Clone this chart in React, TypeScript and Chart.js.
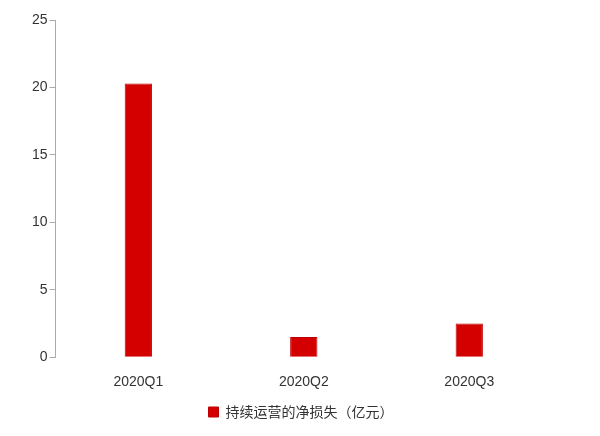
import React, { useEffect, useRef } from "react";
import { Chart, registerables } from "chart.js";

Chart.register(...registerables);

const categories = ["2020Q1", "2020Q2", "2020Q3"];
const netLoss = [20.3, 1.5, 2.5];
const seriesLabel = "持续运营的净损失（亿元）";
const yTicks = [0, 5, 10, 15, 20, 25];

const shiftLegend = {
  id: "shiftLegend",
  afterLayout(chart: any) {
    const lg = chart.legend;
    if (lg) {
      lg.left += 10;
      lg.right += 10;
    }
  },
};

export default function App() {
  const ref = useRef<HTMLCanvasElement>(null);
  useEffect(() => {
    const chart = new Chart(ref.current!, {
      type: "bar",
      data: {
        labels: categories,
        datasets: [
          {
            label: seriesLabel,
            data: netLoss,
            backgroundColor: "#d40000",
            borderColor: "#c00000",
            borderWidth: 1,
            categoryPercentage: 1,
            barPercentage: 0.165,
          },
        ],
      },
      options: {
        animation: false,
        responsive: false,
        maintainAspectRatio: false,
        layout: { padding: { left: 30, right: 48, top: 20, bottom: 7 } },
        plugins: {
          tooltip: { enabled: false },
          legend: {
            position: "bottom",
            labels: {
              boxWidth: 10,
              boxHeight: 10,
              padding: 5,
              color: "#333",
              font: { family: "'Noto Sans CJK SC', sans-serif", size: 14 },
            },
          },
        },
        scales: {
          x: {
            grid: { display: false },
            border: { display: false },
            ticks: {
              color: "#333",
              padding: 9,
              font: { family: "'Liberation Sans', Arial, sans-serif", size: 14 },
            },
          },
          y: {
            min: 0,
            max: 25,
            afterBuildTicks: (axis: any) => {
              axis.ticks = yTicks.map((v) => ({ value: v }));
            },
            grid: {
              drawOnChartArea: false,
              drawTicks: true,
              tickLength: 6,
              color: "#aaa",
            },
            border: { display: true, color: "#aaa" },
            ticks: {
              color: "#333",
              padding: 2,
              font: { family: "'Liberation Sans', Arial, sans-serif", size: 14 },
            },
          },
        },
      },
      plugins: [shiftLegend],
    });
    return () => chart.destroy();
  }, []);
  return (
    <div style={{ position: "fixed", left: 0, top: 0, width: 600, height: 436, background: "#fff" }}>
      <canvas ref={ref} width={600} height={436} style={{ width: 600, height: 436 }} />
    </div>
  );
}
